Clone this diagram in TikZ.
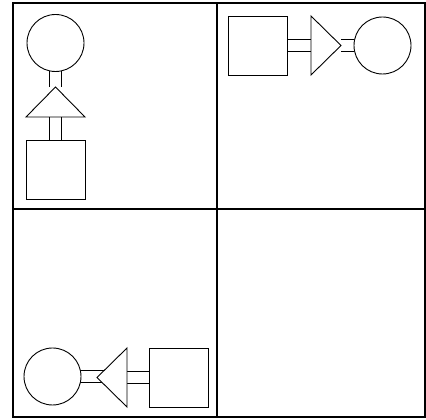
\documentclass[tikz,border=0pt]{standalone}
\usetikzlibrary{shapes.geometric,backgrounds}
\tikzset{
  shp/.style={draw=black, fill=white, line width=0.9pt, inner sep=0pt, outer sep=0pt},
  circ/.style={shp, circle, minimum size=57pt},
  sq/.style={shp, rectangle, minimum width=59pt, minimum height=59pt},
  tri/.style={shp, isosceles triangle, isosceles triangle stretches,
              minimum width=59pt, minimum height=30pt},
  link/.style={draw=black, line width=0.9pt, double=white, double distance=11.5pt},
  grid line/.style={draw=black, line width=1.2pt}
}
\begin{document}
\begin{tikzpicture}[x=1pt,y=1pt]
\useasboundingbox (0,0) rectangle (426,420);
% frame
\draw[grid line] (13,3) rectangle (425,417);
\coordinate (mt) at (217,417);
\coordinate (mb) at (217,3);
\coordinate (ml) at (13,211);
\coordinate (mr) at (425,211);
\draw[grid line] (mt) -- (mb);
\draw[grid line] (ml) -- (mr);
% top-left panel (vertical)
\node[circ] (c1) at (55.5,377) {};
\node[tri, rotate=90, anchor=apex] (t1) at (55.5,333) {};
\node[sq] (s1) at (55.5,250.5) {};
% top-right panel
\node[sq] (s2) at (257.5,374.5) {};
\node[tri, anchor=apex] (t2) at (341,374.5) {};
\node[circ] (c2) at (382.5,374.5) {};
% bottom-left panel
\node[circ] (c3) at (52.5,43.5) {};
\node[tri, rotate=180, anchor=apex] (t3) at (97,42.5) {};
\node[sq] (s3) at (179,42.5) {};
\begin{scope}[on background layer]
\draw[link] (c1) -- (t1);
\draw[link] (t1) -- (s1);
\draw[link] (s2) -- (t2);
\draw[link] (t2) -- (c2);
\draw[link] (c3.center) -- (t3.center |- c3.center);
\draw[link] (t3) -- (s3);
\end{scope}
\end{tikzpicture}
\end{document}
